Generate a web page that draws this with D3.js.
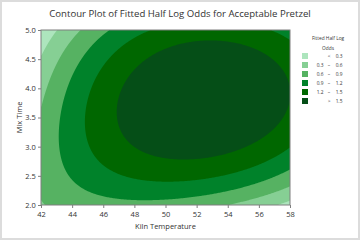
<!DOCTYPE html>
<html>
<head>
<meta charset="utf-8">
<script src="https://cdn.jsdelivr.net/npm/d3@7"></script>
<style>
  body { margin: 0; background: #fff; }
  svg text { font-family: "Open Sans", "Noto Sans", sans-serif; fill: #333; }
</style>
</head>
<body>
<div id="chart"></div>
<script>
// axis ticks
const xTicks = [42, 44, 46, 48, 50, 52, 54, 56, 58];
const yTicks = [2.0, 2.5, 3.0, 3.5, 4.0, 4.5, 5.0];

// contour levels and legend
const levels = [0.3, 0.6, 0.9, 1.2, 1.5];
const levelColors = ['#ade5bd', '#86cf94', '#56b262', '#00822a', '#006700', '#054e17'];
const legendLeft = ['', '0.3', '0.6', '0.9', '1.2', ''];
const legendSym = ['<', '\u2013', '\u2013', '\u2013', '\u2013', '>'];
const legendRight = ['0.3', '0.6', '0.9', '1.2', '1.5', '1.5'];

// fitted surface in coded units u=(x-50)/8, v=(y-3.5)/1.5
// f = A(u) + B(u)*v + C(u)*v^2, each term [const, u, u^2]
const coefA = [1.7696, 0.4068, -0.733];
const coefB = [0.236, 0.348, -0.1455];
const coefC = [-0.7366, -0.2488, 0.1805];

const W = 360, H = 240;
const plot = {left: 41, right: 290, top: 30, bottom: 205};

const svg = d3.select('#chart').append('svg')
  .attr('width', W).attr('height', H);

svg.append('rect')
  .attr('x', 1).attr('y', 1).attr('width', W - 2).attr('height', H - 2)
  .attr('fill', '#fff').attr('stroke', '#dcdcdc').attr('stroke-width', 2);

const x = d3.scaleLinear().domain([42, 58]).range([plot.left, plot.right]);
const y = d3.scaleLinear().domain([2, 5]).range([plot.bottom, plot.top]);

function poly(c, u) { return c[0] + c[1]*u + c[2]*u*u; }
function fitted(xv, yv) {
  const u = (xv - 50) / 8, v = (yv - 3.5) / 1.5;
  return poly(coefA, u) + poly(coefB, u)*v + poly(coefC, u)*v*v;
}

// grid
const nx = 250, ny = 175;
const grid = new Array(nx * ny);
for (let j = 0; j < ny; j++) {
  for (let i = 0; i < nx; i++) {
    const xv = 42 + (i + 0.5) * 16 / nx;
    const yv = 5 - (j + 0.5) * 3 / ny;
    grid[j * nx + i] = fitted(xv, yv);
  }
}

svg.append('clipPath').attr('id', 'clip')
  .append('rect')
  .attr('x', plot.left).attr('y', plot.top)
  .attr('width', plot.right - plot.left).attr('height', plot.bottom - plot.top);

const g = svg.append('g').attr('clip-path', 'url(#clip)');
g.append('rect')
  .attr('x', plot.left).attr('y', plot.top)
  .attr('width', plot.right - plot.left).attr('height', plot.bottom - plot.top)
  .attr('fill', levelColors[0]);

const proj = d3.geoTransform({
  point: function(gx, gy) {
    this.stream.point(x(42 + gx * 16 / nx), y(5 - gy * 3 / ny));
  }
});
const path = d3.geoPath(proj);
const contours = d3.contours().size([nx, ny]).thresholds(levels)(grid);

g.selectAll('path.band')
  .data(contours).enter().append('path')
  .attr('class', 'band')
  .attr('d', path)
  .attr('fill', (d, i) => levelColors[i + 1]);

// frame
svg.append('rect')
  .attr('x', plot.left).attr('y', plot.top)
  .attr('width', plot.right - plot.left).attr('height', plot.bottom - plot.top)
  .attr('fill', 'none').attr('stroke', '#7f7f7f').attr('stroke-width', 1);

// axes
const xAxis = svg.append('g')
  .attr('transform', `translate(0,${plot.bottom})`)
  .call(d3.axisBottom(x).tickValues(xTicks).tickFormat(d3.format('d')).tickSize(3));
const yAxis = svg.append('g')
  .attr('transform', `translate(${plot.left},0)`)
  .call(d3.axisLeft(y).tickValues(yTicks).tickFormat(d3.format('.1f')).tickSize(3));
[xAxis, yAxis].forEach(a => {
  a.select('.domain').remove();
  a.selectAll('line').attr('stroke', '#7f7f7f');
  a.selectAll('text').style('font-size', '7.5px').attr('fill', '#333')
    .style('font-family', '"Open Sans", sans-serif');
});
xAxis.selectAll('text').attr('dy', '0.85em');
yAxis.selectAll('text').attr('dx', '0.1em');

svg.append('text')
  .attr('x', (plot.left + plot.right) / 2).attr('y', 229)
  .attr('text-anchor', 'middle').style('font-size', '7.5px')
  .text('Kiln Temperature');

svg.append('text')
  .attr('transform', `translate(22,${(plot.top + plot.bottom) / 2}) rotate(-90)`)
  .attr('text-anchor', 'middle').style('font-size', '7.5px')
  .text('Mix Time');

svg.append('text')
  .attr('x', 180).attr('y', 17)
  .attr('text-anchor', 'middle').style('font-size', '9.6px')
  .text('Contour Plot of Fitted Half Log Odds for Acceptable Pretzel');

// legend
const lg = svg.append('g');
lg.append('text').attr('x', 328).attr('y', 40)
  .attr('text-anchor', 'middle').style('font-size', '4.8px').text('Fitted Half Log');
lg.append('text').attr('x', 328).attr('y', 50)
  .attr('text-anchor', 'middle').style('font-size', '4.8px').text('Odds');

const rows = lg.selectAll('g.row')
  .data(levelColors).enter().append('g')
  .attr('class', 'row')
  .attr('transform', (d, i) => `translate(0,${53 + i * 9})`);
rows.append('rect')
  .attr('x', 302).attr('y', 0).attr('width', 6).attr('height', 6)
  .attr('fill', d => d);
rows.append('text').attr('x', 320).attr('y', 4.8)
  .attr('text-anchor', 'middle').style('font-size', '4.8px')
  .text((d, i) => legendLeft[i]);
rows.append('text').attr('x', 329).attr('y', 4.8)
  .attr('text-anchor', 'middle').style('font-size', '4.8px')
  .text((d, i) => legendSym[i]);
rows.append('text').attr('x', 339).attr('y', 4.8)
  .attr('text-anchor', 'middle').style('font-size', '4.8px')
  .text((d, i) => legendRight[i]);
</script>
</body>
</html>
